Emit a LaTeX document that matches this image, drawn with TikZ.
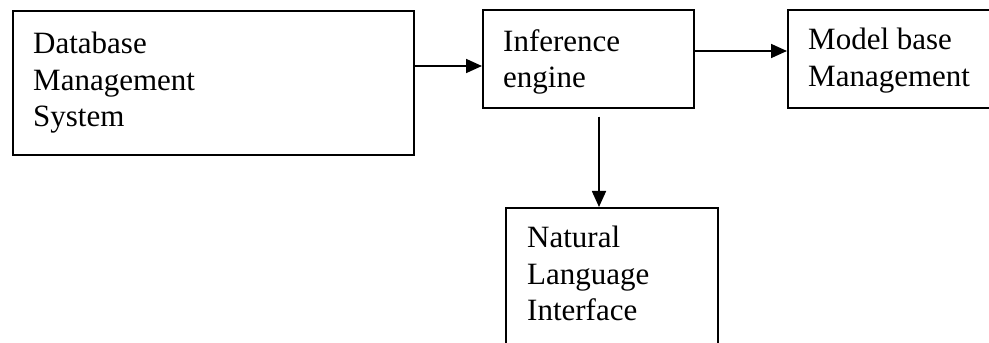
\documentclass[tikz,border=0pt]{standalone}
\usepackage{fontspec}
\setmainfont{Liberation Serif}
\usepackage{tikz}
\usetikzlibrary{arrows.meta}

\begin{document}
\begin{tikzpicture}[x=1pt, y=1pt,
    box/.style={draw, line width=1.7pt, rectangle, inner sep=0pt, anchor=north west},
    txt/.style={anchor=north west, align=left, inner sep=0pt, font=\fontsize{31}{36.5}\selectfont},
    arr/.style={line width=1.7pt, -{Triangle[length=16pt, width=14pt]}}]
                \useasboundingbox (0,0) rectangle (989,343);
                \clip (0,0) rectangle (989,343);

                % 方框
                \node[box, minimum width=401pt, minimum height=144pt] (dbms) at (12,333) {};
                \node[box, minimum width=211pt, minimum height=98pt] (infer) at (482,334) {};
                \node[box, minimum width=240pt, minimum height=98pt] (model) at (787,334) {};
                \node[box, minimum width=212pt, minimum height=170pt] (nli) at (505,136) {};

                % 文字
                \node[txt] (dbmstxt) at ([shift={(21pt,-22pt)}]dbms.north west) {Database\\Management\\System};
                \node[txt] (infertxt) at ([shift={(21pt,-20pt)}]infer.north west) {Inference\\engine};
                \node[txt] (modeltxt) at ([shift={(21pt,-19pt)}]model.north west) {Model base\\Management};
                \node[txt] (nlitxt) at ([shift={(22pt,-19pt)}]nli.north west) {Natural\\Language\\Interface};

                % 箭头
                \draw[arr] ([yshift=-56pt]dbms.north east) -- ([yshift=-57pt]infer.north west);
                \draw[arr] ([yshift=-42pt]infer.north east) -- ([yshift=-42pt]model.north west);
                \draw[arr] ([shift={(117pt,-8pt)}]infer.south west) -- ([xshift=94pt]nli.north west);
            \end{tikzpicture}
\end{document}
